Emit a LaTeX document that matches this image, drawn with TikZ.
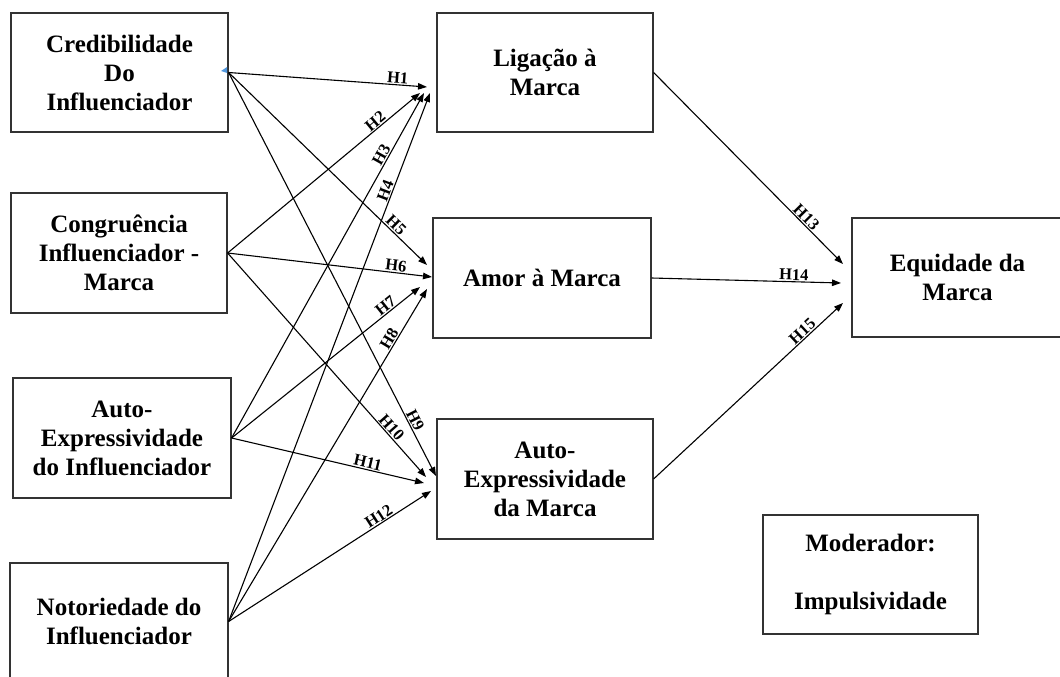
\documentclass[tikz,border=0pt]{standalone}
\usepackage{fontspec}
\setmainfont{Liberation Serif}
\usetikzlibrary{arrows.meta,calc}
\begin{document}
\begin{tikzpicture}[x=1pt,y=-1pt,
 box/.style={draw=black!80, line width=1.2pt, align=center, inner sep=0pt,
   font=\bfseries\fontsize{25}{29}\selectfont},
 arr/.style={draw=black, line width=1.1pt, -{Triangle[length=9pt,width=6.5pt]}},
 hlab/.style={sloped, above, font=\bfseries\fontsize{16.5}{16.5}\selectfont, inner sep=1pt}]
\useasboundingbox (0,0) rectangle (1060,677);
% left column
\node[box, minimum width=217pt, minimum height=119pt] (c1) at (119.5,72.5) {Credibilidade\\Do\\Influenciador};
\node[box, minimum width=216pt, minimum height=120pt] (c2) at (119,253) {Congruência\\Influenciador -\\Marca};
\node[box, minimum width=218pt, minimum height=120pt] (c3) at (122,438) {Auto-\\Expressividade\\do Influenciador};
\node[box, minimum width=218pt, minimum height=117pt] (c4) at (119,621.5) {Notoriedade do\\Influenciador};
% middle column
\node[box, minimum width=216pt, minimum height=119pt] (lig) at (545,72.5) {Ligação à\\Marca};
\node[box, minimum width=218pt, minimum height=120pt] (amor) at (542,278) {Amor à Marca};
\node[box, minimum width=216pt, minimum height=120pt] (autom) at (545,479) {Auto-\\Expressividade\\da Marca};
% right
\node[box, minimum width=211pt, minimum height=119pt] (eq) at (957.5,277.5) {Equidade da\\Marca};
\node[box, minimum width=215pt, minimum height=119pt] (mod) at (870.5,574.5) {Moderador:\\[29pt]Impulsividade};
% small blue marker
\fill[color={rgb,255:red,80;green,150;blue,220}] (221,71) -- (227,67) -- (227,73) -- cycle;
% targets
\coordinate (t1) at (427,87);
\coordinate (t2) at (420,93);
\coordinate (t3) at (424,93);
\coordinate (t4) at (430,93);
\coordinate (t5) at (427,265);
\coordinate (t6) at (432,277);
\coordinate (t7) at (420,287);
\coordinate (t8) at (427,289);
\coordinate (t9) at (436,476);
\coordinate (t10) at (426,477);
\coordinate (t11) at (424,483);
\coordinate (t12) at (431,491);
\coordinate (t13) at (843,264);
\coordinate (t14) at (841,283);
\coordinate (t15) at (843,303);
% connectors
\draw[arr] (c1.east) -- node[hlab,pos=0.85]{H1} (t1);
\draw[arr] (c2.east) -- node[hlab,pos=0.79]{H2} (t2);
\draw[arr] (c3.east) -- node[hlab,pos=0.81]{H3} (t3);
\draw[arr] (c4.east) -- node[hlab,pos=0.81]{H4} (t4);
\draw[arr] (c1.east) -- node[hlab,pos=0.82]{H5} (t5);
\draw[arr] (c2.east) -- node[hlab,pos=0.82]{H6} (t6);
\draw[arr] (c3.east) -- node[hlab,pos=0.84]{H7} (t7);
\draw[arr] (c4.east) -- node[hlab,pos=0.84]{H8} (t8);
\draw[arr] (c1.east) -- node[hlab,pos=0.87]{H9} (t9);
\draw[arr] (c2.east) -- node[hlab,pos=0.80]{H10} (t10);
\draw[arr] (c3.east) -- node[hlab,pos=0.70]{H11} (t11);
\draw[arr] (c4.east) -- node[hlab,pos=0.76]{H12} (t12);
\draw[arr] (lig.east) -- node[hlab,pos=0.78]{H13} (t13);
\draw[arr] (amor.east) -- node[hlab,pos=0.75]{H14} (t14);
\draw[arr] (autom.east) -- node[hlab,pos=0.81]{H15} (t15);
\end{tikzpicture}
\end{document}
